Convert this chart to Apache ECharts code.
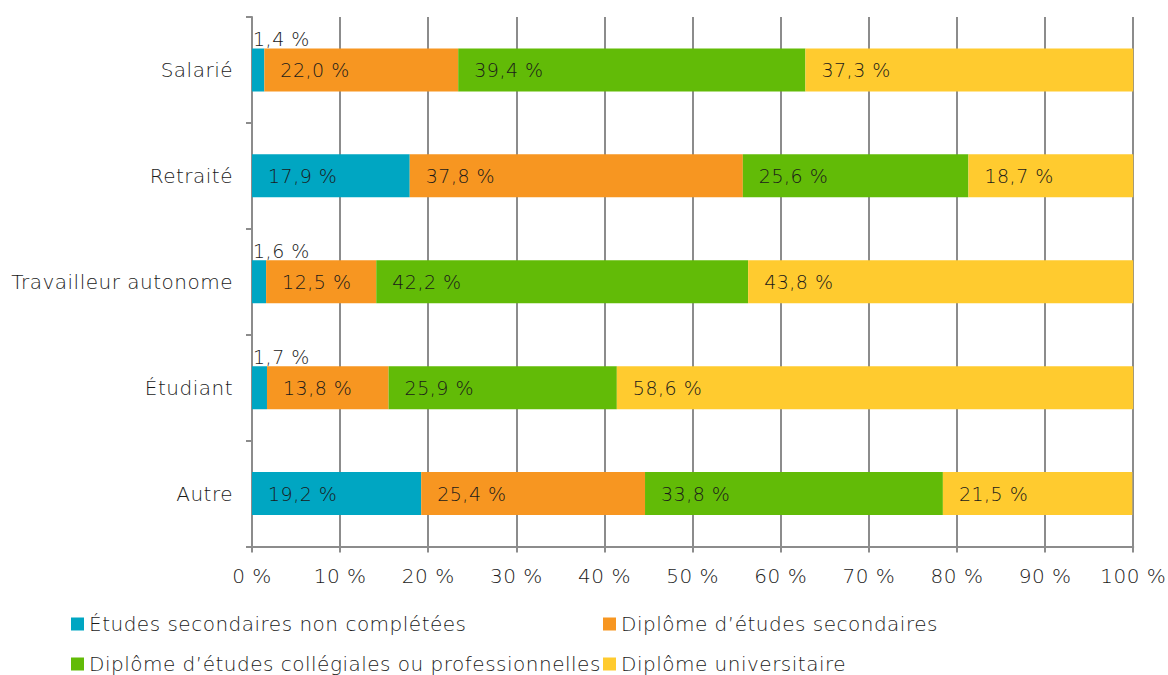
<!DOCTYPE html>
<html>
<head>
<meta charset="utf-8">
<script src="https://cdn.jsdelivr.net/npm/echarts@6/dist/echarts.min.js"></script>
<style>
  html, body { margin: 0; padding: 0; background: #fff; }
  #chart { width: 1168px; height: 675px; }
  /* slightly wider tracking for all chart text */
  #chart svg text { letter-spacing: 0.5px; }
</style>
</head>
<body>
<div id="chart"></div>
<script>
// Occupation categories, top to bottom
const categories = ['Salarié', 'Retraité', 'Travailleur autonome', 'Étudiant', 'Autre'];

// Education level shares (%) per occupation
const seriesNames = [
  'Études secondaires non complétées',
  'Diplôme d’études secondaires',
  'Diplôme d’études collégiales ou professionnelles',
  'Diplôme universitaire'
];
const nonCompletees = [1.4, 17.9, 1.6, 1.7, 19.2];
const secondaires   = [22.0, 37.8, 12.5, 13.8, 25.4];
const collegiales   = [39.4, 25.6, 42.2, 25.9, 33.8];
const universitaire = [37.3, 18.7, 43.8, 58.6, 21.5];

const xTicks = [0, 10, 20, 30, 40, 50, 60, 70, 80, 90, 100];

const colors = ['#00A6C2', '#F79621', '#62BB07', '#FFCB2F'];
const FONT = '"DejaVu Sans ExtraLight", "DejaVu Sans", sans-serif';
const WEIGHT = 200;
const TEXT = '#1a1a1a';
const AXIS = '#8c8c8c';

const fmt = v => v.toFixed(1).replace('.', ',') + ' %';

function buildData(values) {
  return values.map(v => {
    if (v < 5) {
      // too narrow for an inside label: put it above the segment
      return { value: v, label: { position: [1, -19] } };
    }
    return v;
  });
}

const allValues = [nonCompletees, secondaires, collegiales, universitaire];

const series = allValues.map((vals, i) => ({
  name: seriesNames[i],
  type: 'bar',
  stack: 'total',
  barWidth: 43,
  itemStyle: { color: colors[i] },
  label: {
    show: true,
    position: 'insideLeft',
    distance: 16,
    color: TEXT,
    fontFamily: FONT,
    fontWeight: WEIGHT,
    fontSize: 19,
    formatter: p => fmt(p.value)
  },
  data: buildData(vals)
}));

// Legend laid out as a two-column grid
const legendPos = [
  { left: 71, top: 614 },
  { left: 603, top: 614 },
  { left: 71, top: 654 },
  { left: 603, top: 654 }
];
const legends = seriesNames.map((n, i) => ({
  data: [n],
  left: legendPos[i].left,
  top: legendPos[i].top,
  padding: 0,
  icon: 'rect',
  itemWidth: 13,
  itemHeight: 13,
  itemGap: 0,
  selectedMode: false,
  textStyle: { color: TEXT, fontFamily: FONT, fontWeight: WEIGHT, fontSize: 20, lineHeight: 20 }
}));

const chart = echarts.init(document.getElementById('chart'), null, { renderer: 'svg' });
chart.setOption({
  animation: false,
  color: colors,
  grid: { left: 252, right: 33, top: 17, bottom: 128.5, containLabel: false },
  legend: legends,
  xAxis: {
    type: 'value',
    min: 0,
    max: 100,
    interval: 10,
    axisLine: { show: true, lineStyle: { color: AXIS, width: 2 } },
    axisTick: { show: true, length: 6, lineStyle: { color: AXIS, width: 2 } },
    splitLine: { show: true, lineStyle: { color: AXIS, width: 2 } },
    axisLabel: {
      color: TEXT,
      fontFamily: FONT,
      fontWeight: WEIGHT,
      fontSize: 20,
      margin: 19,
      formatter: v => (xTicks.includes(v) ? v + ' %' : '')
    }
  },
  yAxis: {
    type: 'category',
    data: categories,
    inverse: true,
    axisLine: { show: true, lineStyle: { color: AXIS, width: 2 } },
    axisTick: { show: true, length: 6, lineStyle: { color: AXIS, width: 2 } },
    axisLabel: {
      color: TEXT,
      fontFamily: FONT,
      fontWeight: WEIGHT,
      fontSize: 20,
      margin: 19
    }
  },
  series: series
});
</script>
</body>
</html>
